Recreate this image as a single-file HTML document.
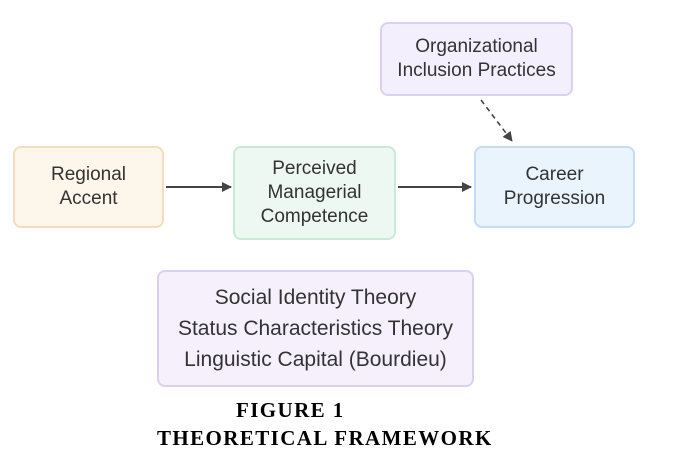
<!DOCTYPE html>
<html><head><style>
body{margin:0;width:676px;height:464px;background:#fff;position:relative;overflow:hidden;font-family:"Liberation Sans",sans-serif;color:#333;}
.b{position:absolute;box-sizing:border-box;border:2px solid;border-radius:8px;display:flex;align-items:center;justify-content:center;text-align:center;font-size:19px;line-height:24px;}
.cap{position:absolute;font-family:"Liberation Serif",serif;font-weight:bold;font-size:21px;color:#000;letter-spacing:1.4px;}
</style></head><body>
<div class="b" style="left:380px;top:22px;width:193px;height:74px;background:#f4effc;border-color:#dcd0ef">Organizational<br>Inclusion Practices</div>
<div class="b" style="left:13px;top:146px;width:151px;height:82px;background:#fdf6ea;border-color:#f5dcbc">Regional<br>Accent</div>
<div class="b" style="left:233px;top:146px;width:163px;height:94px;background:#ecf8f1;border-color:#c9ead6">Perceived<br>Managerial<br>Competence</div>
<div class="b" style="left:474px;top:146px;width:161px;height:82px;background:#eaf4fd;border-color:#c6dcf4">Career<br>Progression</div>
<div class="b" style="left:157px;top:270px;width:317px;height:117px;background:#f5f0fc;border-color:#dcd0ef;font-size:21px;line-height:31px">Social Identity Theory<br>Status Characteristics Theory<br>Linguistic Capital (Bourdieu)</div>
<svg style="position:absolute;left:0;top:0" width="676" height="464">
<defs><marker id="a" markerWidth="10" markerHeight="10" refX="9" refY="5" orient="auto" markerUnits="userSpaceOnUse"><path d="M0,0L10,5L0,10z" fill="#444"/></marker></defs>
<line x1="166" y1="187" x2="231" y2="187" stroke="#444" stroke-width="2" marker-end="url(#a)"/>
<line x1="398" y1="187" x2="471" y2="187" stroke="#444" stroke-width="2" marker-end="url(#a)"/>
<line x1="481" y1="100" x2="512" y2="141" stroke="#444" stroke-width="1.6" stroke-dasharray="5,4" marker-end="url(#a)"/>
</svg>
<div class="cap" style="left:236px;top:398px">FIGURE 1</div>
<div class="cap" style="left:157px;top:426px">THEORETICAL FRAMEWORK</div>
</body></html>
